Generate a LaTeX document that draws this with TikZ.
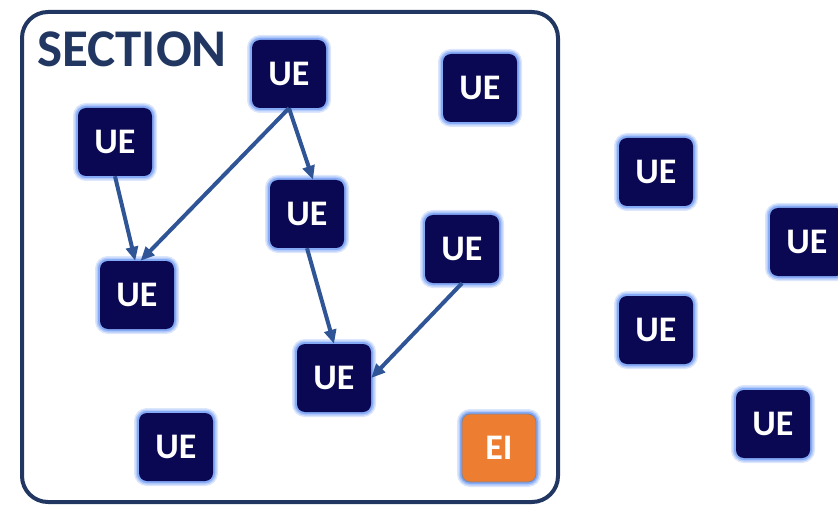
\documentclass[tikz,border=0pt]{standalone}
\usepackage{fontspec}
\setmainfont{Carlito}
\usetikzlibrary{arrows.meta}

\definecolor{uenavy}{RGB}{10,8,82}
\definecolor{glowblue}{RGB}{120,160,245}
\definecolor{arrowblue}{RGB}{47,85,151}
\definecolor{secnavy}{RGB}{33,55,98}
\definecolor{eiorange}{RGB}{237,125,49}

\begin{document}
\begin{tikzpicture}[x=1pt, y=-1pt,
  ue/.style={fill=uenavy, text=white, rounded corners=8pt, inner sep=0pt,
    minimum width=74pt, minimum height=68pt,
    font=\fontsize{36}{36}\selectfont\bfseries,
    preaction={draw=glowblue!25, line width=10pt},
    preaction={draw=glowblue!55, line width=7pt},
    preaction={draw=glowblue!90, line width=4pt}},
  ei/.style={ue, fill=eiorange, draw=secnavy!60, line width=0.8pt},
  link/.style={->, >={Triangle[length=14pt, width=12pt]}, line width=4pt, color=arrowblue}]

  \useasboundingbox (0,0) rectangle (838,505);

  % Section frame
  \node[draw=secnavy, line width=4pt, rounded corners=26pt, inner sep=0pt,
    minimum width=536pt, minimum height=490pt] (sec) at (290,257) {};
  \node[anchor=north west, inner sep=0pt, text=secnavy,
    font=\fontsize{53}{53}\selectfont\bfseries] (title) at (37,32) {SECTION};

  % UEs inside the section
  \node[ue] (U1) at (289,74) {UE};
  \node[ue] (U2) at (480,88) {UE};
  \node[ue] (U3) at (115,142) {UE};
  \node[ue] (U4) at (307,214) {UE};
  \node[ue] (U5) at (462,249) {UE};
  \node[ue] (U6) at (137,295) {UE};
  \node[ue] (U7) at (334,378) {UE};
  \node[ue] (U8) at (176,447) {UE};
  \node[ei] (EI) at (499,448) {EI};

  % UEs outside
  \node[ue] (V1) at (656,172) {UE};
  \node[ue] (V2) at (807,242) {UE};
  \node[ue] (V3) at (656,330) {UE};
  \node[ue] (V4) at (773,424) {UE};

  % Links
  \draw[link] (U1.south) -- (U6.84);
  \draw[link] (U1.south) -- (U4.80);
  \draw[link] (U3.south) -- (U6.93);
  \draw[link] (U4.south) -- (U7.north);
  \draw[link] (U5.south) -- (U7.east);

\end{tikzpicture}
\end{document}
